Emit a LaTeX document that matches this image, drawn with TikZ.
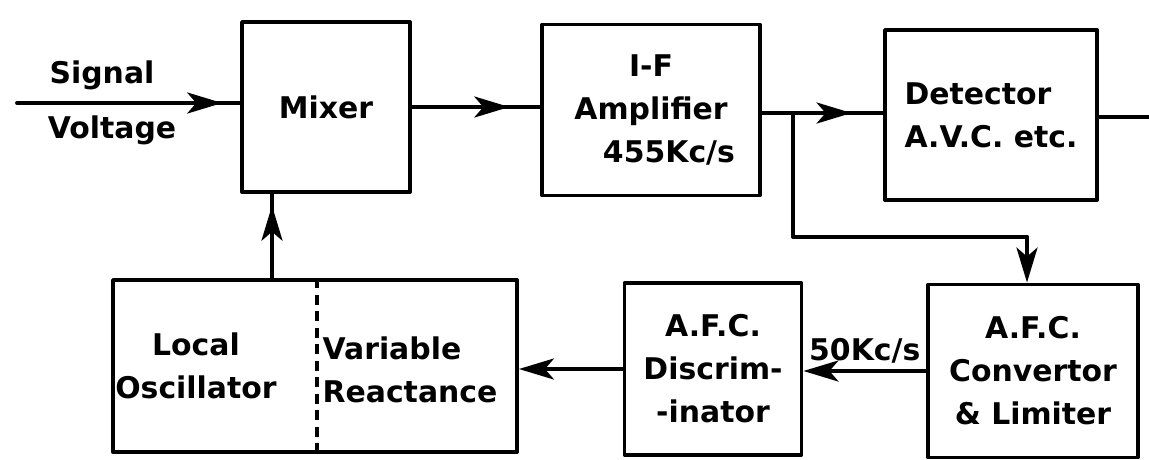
\documentclass[tikz,border=0pt]{standalone}
\usepackage{fontspec}
\setmainfont{DejaVu Sans}
\usetikzlibrary{arrows.meta,decorations.markings}

\tikzset{
  block/.style={draw, inner sep=0pt, align=center},
  arrow at/.style={postaction={decorate},
    decoration={markings, mark=at position #1 with {\arrow{>}}}}
}

\begin{document}
\begin{tikzpicture}[line width=2.2pt, line cap=round, line join=round,
    >={Stealth[length=7mm,width=4.2mm,inset=1.8mm]}, x=0.2mm, y=-0.2mm,
    font=\fontsize{17}{24.5}\selectfont\bfseries]
  \useasboundingbox (0,0) rectangle (1149,459);
  % top row
  \node[block, minimum width=33.6mm, minimum height=34mm] (mixer) at (326,107) {Mixer};
  \node[block, minimum width=43.6mm, minimum height=34.2mm] (ifamp) at (651,110)
    {I-F\\Amplifier\\\hspace*{1.2em}455Kc/s};
  \node[block, align=left, minimum width=42.4mm, minimum height=34mm] (det) at (991,115)
    {Detector\\A.V.C. etc.};
  % bottom row
  \node[block, minimum width=80.8mm, minimum height=34.4mm] (lo) at (315,366) {};
  \node[align=center] (osc) at (196,366) {Local\\Oscillator};
  \node[align=left] (react) at (410,370) {Variable\\Reactance};
  \node[block, minimum width=35.4mm, minimum height=34.4mm] (disc) at (713,369)
    {A.F.C.\\Discrim-\\-inator};
  \node[block, minimum width=42mm, minimum height=34.6mm] (conv) at (1033,371)
    {A.F.C.\\Convertor\\\& Limiter};
  \coordinate (split) at (317,366);
  \draw[dash pattern=on 2mm off 1.3mm, line cap=butt] (split |- lo.north) -- (split |- lo.south);
  % input
  \coordinate (in) at (17,103);
  \node (sig) at (102,75) {Signal};
  \node (volt) at (112,130) {Voltage};
  \draw[arrow at=0.92] (in) -- (in -| mixer.west);
  % signal path
  \draw[arrow at=0.76] (mixer.east) -- (mixer.east -| ifamp.west);
  \coordinate (branch) at (793,113);
  \coordinate (out) at (1149,117);
  \draw[arrow at=0.74] (branch -| ifamp.east) -- (branch -| det.west);
  \draw (out -| det.east) -- (out);
  % a.f.c. loop
  \coordinate (turn) at (1027,237);
  \draw (branch) |- (turn);
  \draw[->] (turn) -- (turn |- conv.north);
  \draw[->] (conv.west) -- (conv.west -| disc.east) node[midway, above] (rate) {50Kc/s};
  \draw[->] (disc.west) -- (disc.west -| lo.east);
  \coordinate (tap) at (272,280);
  \draw[arrow at=0.86] (tap |- lo.north) -- (tap |- mixer.south);
\end{tikzpicture}
\end{document}
